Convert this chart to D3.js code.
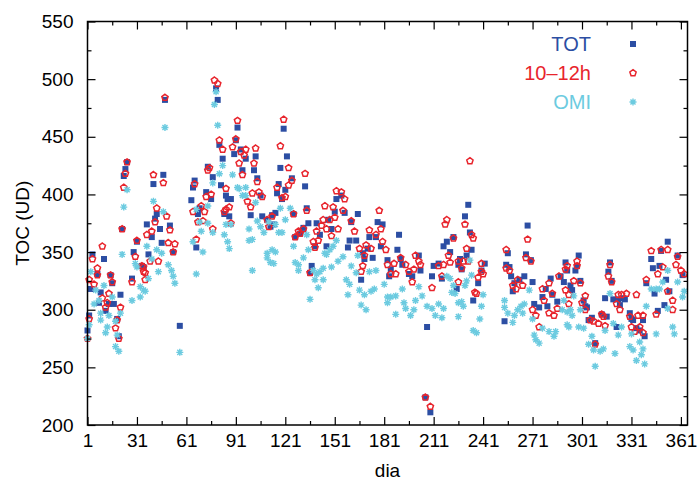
<!DOCTYPE html>
<html>
<head>
<meta charset="utf-8">
<script src="https://d3js.org/d3.v7.min.js"></script>
<style>
body { margin:0; background:#fff; }
svg text { font-family:"Liberation Sans", Arial, Helvetica, sans-serif; }
</style>
</head>
<body>
<svg id="chart"></svg>
<script>
// tick values
var xTicks = [1,31,61,91,121,151,181,211,241,271,301,331,361];
var xMinor = [16,46,76,106,136,166,196,226,256,286,316,346];
var yTicks = [200,250,300,350,400,450,500,550];
var yMinor = [225,275,325,375,425,475,525];

var seriesNames = ["TOT","10\u201312h","OMI"];

// [dia, TOC]
var tot = [[1,282],[2,295],[3,318],[4,348],[7,331],[8,306],[9,315],[11,344],[12,299],[14,305],[15,330],[16,323],[17,305],[19,292],[20,277],[21,313],[22,370],[23,416],[24,422],[25,428],[28,327],[29,350],[31,359],[34,338],[35,337],[37,374],[38,348],[40,363],[41,409],[42,379],[43,383],[45,370],[46,358],[47,417],[48,482],[51,373],[53,350],[57,286],[64,395],[65,406],[66,412],[67,354],[68,383],[69,388],
[73,402],[74,424],[76,396],[77,415],[79,492],[80,482],[81,443],[82,408],[83,431],[84,383],[85,399],[86,396],[87,381],[88,396],[90,435],[91,447],[92,458],[94,439],[95,421],[97,431],[100,382],[102,421],[103,433],[104,414],[106,399],[107,381],[110,378],[112,372],[113,382],[114,374],[115,384],[116,401],[117,409],[118,423],[119,396],[120,457],[121,404],[122,433],[125,414],[126,383],[127,363],[130,366],[132,371],[133,407],[134,388],[135,375],[136,332],[137,338],[139,355],[140,375],[142,365],[146,355],
[147,378],[149,370],[151,385],[152,396],[155,399],[157,384],[159,354],[160,360],[161,376],[164,360],[165,383],[167,326],[168,349],[169,344],[171,353],[172,363],[174,345],[176,363],[177,376],[179,355],[180,374],[183,343],[184,329],[185,335],[189,352],[190,365],[191,344],[192,339],[196,331],[198,329],[202,347],[203,334],[206,224],[207,285],[209,211],[210,329],[211,338],[214,340],[216,327],[217,355],[219,359],
[221,350],[223,363],[225,318],[226,339],[227,344],[228,335],[230,381],[231,347],[232,391],[233,367],[234,352],[235,308],[238,323],[240,334],[242,340],[254,290],[255,339],[256,349],[257,337],[258,329],[259,316],[260,323],[263,326],[266,329],[267,348],[268,373],[270,343],[271,324],[272,305],[275,302],[277,311],[279,318],[280,303],[282,327],[283,313],[286,307],[288,329],
[290,324],[291,341],[292,334],[294,321],[295,317],[297,334],[298,338],[299,347],[300,325],[302,308],[303,303],[304,302],[305,291],[307,293],[309,271],[313,296],[315,310],[316,294],[317,333],[318,341],[319,325],[320,309],[322,285],[323,309],[324,304],[326,310],[327,309],[330,297],[331,292],[332,291],[334,284],[336,282],[338,291],[339,277],[340,323],[343,344],[344,336],[345,314],[347,299],[348,338],[349,351],[351,304],[352,326],[353,359],[354,316],[359,347],[362,330]];

var h1012 = [[1,275],[2,292],[2,326],[4,344],[5,322],[7,336],[7,330],[10,310],[10,355],[12,302],[13,306],[14,314],[15,330],[16,324],[18,284],[19,291],[20,275],[21,302],[22,370],[23,406],[24,418],[25,428],[28,324],[30,346],[31,360],[34,338],[35,333],[35,337],[36,332],[36,326],[37,365],[39,342],[40,368],[41,417],[42,376],[43,388],[44,342],[47,410],[48,484],[49,381],[50,358],[51,369],[53,350],[54,357],[65,385],[66,409],[67,361],[68,376],[70,390],[71,377],
[72,385],[73,398],[74,421],[75,423],[76,400],[77,370],[78,499],[80,496],[81,447],[83,439],[84,385],[85,387],[85,405],[87,389],[88,375],[89,441],[91,448],[92,464],[93,427],[94,437],[95,417],[96,434],[97,439],[98,394],[100,389],[101,401],[102,427],[103,440],[104,411],[105,402],[107,398],[110,378],[111,372],[113,381],[116,406],[118,442],[119,397],[120,465],[121,398],[123,408],[123,423],[125,412],[126,383],[127,363],[129,368],[130,366],[132,370],[133,418],[134,386],[136,332],[138,359],[139,354],[140,368],[141,360],[143,373],[144,378],[145,390],
[146,370],[148,378],[149,364],[150,389],[151,380],[152,403],[153,370],[155,402],[156,386],[157,396],[161,377],[163,368],[166,353],[167,333],[168,338],[169,347],[170,356],[172,369],[173,353],[176,365],[178,386],[179,370],[180,359],[182,352],[183,339],[185,331],[187,340],[188,331],[191,345],[194,339],[196,333],[198,324],[199,335],[200,347],[202,342],[203,339],[206,224],[209,216],[210,319],[214,338],[216,329],[217,339],[218,374],[219,378],
[220,347],[221,341],[223,362],[226,342],[226,324],[228,336],[229,342],[230,374],[231,353],[232,342],[233,429],[234,365],[235,362],[236,315],[237,314],[238,328],[240,340],[240,333],[241,331],[255,352],[255,336],[257,334],[259,321],[261,318],[262,326],[265,321],[267,345],[268,361],[270,342],[271,300],[273,295],[275,285],[277,318],[278,308],[281,323],[281,297],[283,314],[284,295],[286,301],[287,329],[291,317],[291,335],
[292,338],[293,313],[293,305],[296,325],[298,338],[298,342],[300,323],[301,306],[303,312],[303,300],[306,291],[308,290],[309,270],[311,288],[313,296],[314,294],[315,286],[317,329],[318,339],[319,324],[322,305],[323,313],[324,300],[325,313],[328,314],[330,294],[331,285],[333,281],[334,313],[335,295],[336,285],[338,280],[338,295],[340,326],[343,351],[346,296],[347,331],[349,352],[350,337],[353,316],[353,352],[356,308],[356,300],[358,339],[359,346],[361,334],[363,331]];

var omi = [[1,275],[2,287],[3,333],[5,305],[6,317],[8,308],[9,291],[9,297],[11,321],[12,280],[13,285],[14,295],[16,311],[18,268],[18,290],[19,278],[20,264],[21,297],[22,348],[23,389],[25,404],[28,308],[30,340],[31,337],[33,320],[33,311],[35,317],[36,316],[37,355],[38,327],[40,344],[41,394],[43,352],[44,333],[46,349],[47,385],[48,458],[50,339],[52,334],[53,329],[54,323],[57,263],[65,359],[67,387],[67,331],[69,376],[70,368],[71,350],
[74,390],[74,375],[77,410],[77,367],[78,478],[79,489],[80,460],[81,418],[83,425],[84,365],[85,374],[86,359],[87,353],[88,374],[89,417],[92,406],[93,405],[95,399],[97,406],[97,399],[99,370],[99,360],[101,361],[101,334],[103,393],[104,377],[106,372],[108,367],[110,349],[110,345],[111,376],[112,341],[113,352],[114,340],[115,374],[115,350],[117,367],[118,388],[119,367],[121,378],[124,388],[126,355],[127,341],[129,339],[129,334],[132,345],[134,365],[135,352],[136,309],[138,334],[139,326],[140,331],[141,319],[142,333],[144,336],[144,326],[145,349],[146,348],
[148,352],[149,337],[150,355],[152,360],[153,342],[156,346],[158,326],[159,313],[160,322],[161,338],[164,332],[165,347],[166,317],[167,304],[169,313],[170,300],[172,333],[173,316],[175,318],[176,334],[181,322],[183,311],[183,306],[185,311],[188,312],[188,296],[192,318],[193,306],[194,301],[197,295],[199,300],[200,308],[202,320],[204,312],[207,303],[210,301],[212,295],[214,305],[216,293],[217,301],[219,329],
[221,327],[222,315],[223,321],[224,314],[226,306],[226,294],[228,307],[229,303],[230,321],[231,325],[233,343],[234,330],[235,282],[237,280],[239,292],[240,303],[241,313],[254,308],[254,302],[256,297],[259,289],[260,295],[262,300],[264,303],[265,297],[266,305],[269,317],[271,292],[272,278],[273,274],[275,271],[277,284],[281,281],[284,277],[285,281],[289,300],[290,308],[292,287],[292,298],
[293,285],[294,300],[295,295],[296,312],[299,285],[300,300],[302,284],[305,270],[307,277],[308,265],[309,251],[312,264],[314,266],[315,282],[318,314],[320,288],[321,262],[323,278],[325,285],[330,268],[331,279],[332,265],[334,256],[336,272],[337,261],[338,266],[339,253],[340,303],[343,318],[346,279],[346,318],[348,318],[350,324],[353,334],[353,301],[356,285],[357,279],[359,324],[362,311],[363,316]];

var colors = {tot:"#2c4ea3", h1012:"#e8242c", omi:"#6ccbe0"};

// marker paths
var pentagonPath = function(r)
{
    var pts = d3.range(5).map(function(i)
    {
        var a = -Math.PI/2 + i*2*Math.PI/5;
        return [r*Math.cos(a), r*Math.sin(a)];
    });
    return "M" + pts.join("L") + "Z";
}
var starPath = function(r)
{
    var d = r*0.72;
    return "M"+(-r)+",0L"+r+",0M0,"+(-r)+"L0,"+r+
           "M"+(-d)+","+(-d)+"L"+d+","+d+"M"+(-d)+","+d+"L"+d+","+(-d);
}
var squarePath = "M-3,-3H3V3H-3Z";

var styleMarker = function(sel, kind)
{
    if (kind=="tot")
    {
        sel.attr("d",squarePath).attr("fill",colors.tot);
    }
    else if (kind=="h1012")
    {
        sel.attr("d",pentagonPath(3.3)).attr("fill","none")
           .attr("stroke",colors.h1012).attr("stroke-width",1.5);
    }
    else
    {
        sel.attr("d",starPath(3.5)).attr("fill","none")
           .attr("stroke",colors.omi).attr("stroke-width",1.4);
    }
}

var drawSeries = function(g, data, kind, xScale, yScale)
{
    g.append("g")
        .selectAll("path")
        .data(data)
        .enter()
        .append("path")
        .attr("transform",function(p){return "translate("+xScale(p[0])+","+yScale(p[1])+")"})
        .call(styleMarker, kind);
}

var createAxes = function(svg, graph, xScale, yScale)
{
    var axes = svg.append("g");
    var styleAxis = function(sel)
    {
        sel.select(".domain").remove();
        sel.selectAll("line").attr("stroke","#000").attr("stroke-width",1.2);
        sel.selectAll("text").attr("fill","#000").attr("font-size","19px")
            .attr("font-family","Liberation Sans, Arial, sans-serif");
    }
    axes.append("g")
        .attr("transform","translate(0,"+graph.bottom+")")
        .call(d3.axisBottom(xScale).tickValues(xTicks).tickSize(-8).tickPadding(9))
        .call(styleAxis);
    axes.append("g")
        .attr("transform","translate(0,"+graph.bottom+")")
        .call(d3.axisBottom(xScale).tickValues(xMinor).tickSize(-4).tickFormat(""))
        .call(styleAxis);
    axes.append("g")
        .attr("transform","translate(0,"+graph.top+")")
        .call(d3.axisTop(xScale).tickValues(xTicks).tickSize(-8).tickFormat(""))
        .call(styleAxis);
    axes.append("g")
        .attr("transform","translate(0,"+graph.top+")")
        .call(d3.axisTop(xScale).tickValues(xMinor).tickSize(-4).tickFormat(""))
        .call(styleAxis);
    axes.append("g")
        .attr("transform","translate("+graph.left+",0)")
        .call(d3.axisLeft(yScale).tickValues(yTicks).tickSize(-8).tickPadding(14))
        .call(styleAxis);
    axes.append("g")
        .attr("transform","translate("+graph.left+",0)")
        .call(d3.axisLeft(yScale).tickValues(yMinor).tickSize(-4).tickFormat(""))
        .call(styleAxis);
    axes.append("g")
        .attr("transform","translate("+graph.right+",0)")
        .call(d3.axisRight(yScale).tickValues(yTicks).tickSize(-8).tickFormat(""))
        .call(styleAxis);
    axes.append("g")
        .attr("transform","translate("+graph.right+",0)")
        .call(d3.axisRight(yScale).tickValues(yMinor).tickSize(-4).tickFormat(""))
        .call(styleAxis);

    axes.append("rect")
        .attr("x",graph.left).attr("y",graph.top)
        .attr("width",graph.right-graph.left)
        .attr("height",graph.bottom-graph.top)
        .attr("fill","none").attr("stroke","#000").attr("stroke-width",1.5);
}

var createLabels = function(svg, graph)
{
    svg.append("text")
        .text("dia")
        .attr("text-anchor","middle")
        .attr("font-size","19px")
        .attr("x",(graph.left+graph.right)/2)
        .attr("y",477);
    svg.append("text")
        .text("TOC (UD)")
        .attr("text-anchor","middle")
        .attr("font-size","19px")
        .attr("transform","translate(29,"+((graph.top+graph.bottom)/2)+") rotate(-90)");

    var legendColors = [colors.tot, colors.h1012, colors.omi];
    var kinds = ["tot","h1012","omi"];
    var legend = svg.append("g");
    seriesNames.forEach(function(name,i)
    {
        var yy = 44 + i*29;
        legend.append("text")
            .text(name)
            .attr("text-anchor","end")
            .attr("font-size","20px")
            .attr("fill",legendColors[i])
            .attr("x",591)
            .attr("y",yy+7);
        legend.append("path")
            .attr("transform","translate(633,"+yy+")")
            .call(styleMarker, kinds[i]);
    });
}

var displayChart = function(target)
{
    var screen = {width:700, height:486};
    var graph = {left:87.5, right:687.5, top:21.5, bottom:425};

    var svg = d3.select(target)
        .attr("width",screen.width)
        .attr("height",screen.height);

    var xScale = d3.scaleLinear()
        .domain([1,365])
        .range([graph.left,graph.right]);
    var yScale = d3.scaleLinear()
        .domain([200,550])
        .range([graph.bottom,graph.top]);

    var g = svg.append("g").classed("points",true);
    drawSeries(g, tot, "tot", xScale, yScale);
    drawSeries(g, h1012, "h1012", xScale, yScale);
    drawSeries(g, omi, "omi", xScale, yScale);

    createAxes(svg, graph, xScale, yScale);
    createLabels(svg, graph);
}

displayChart("#chart");
</script>
</body>
</html>
